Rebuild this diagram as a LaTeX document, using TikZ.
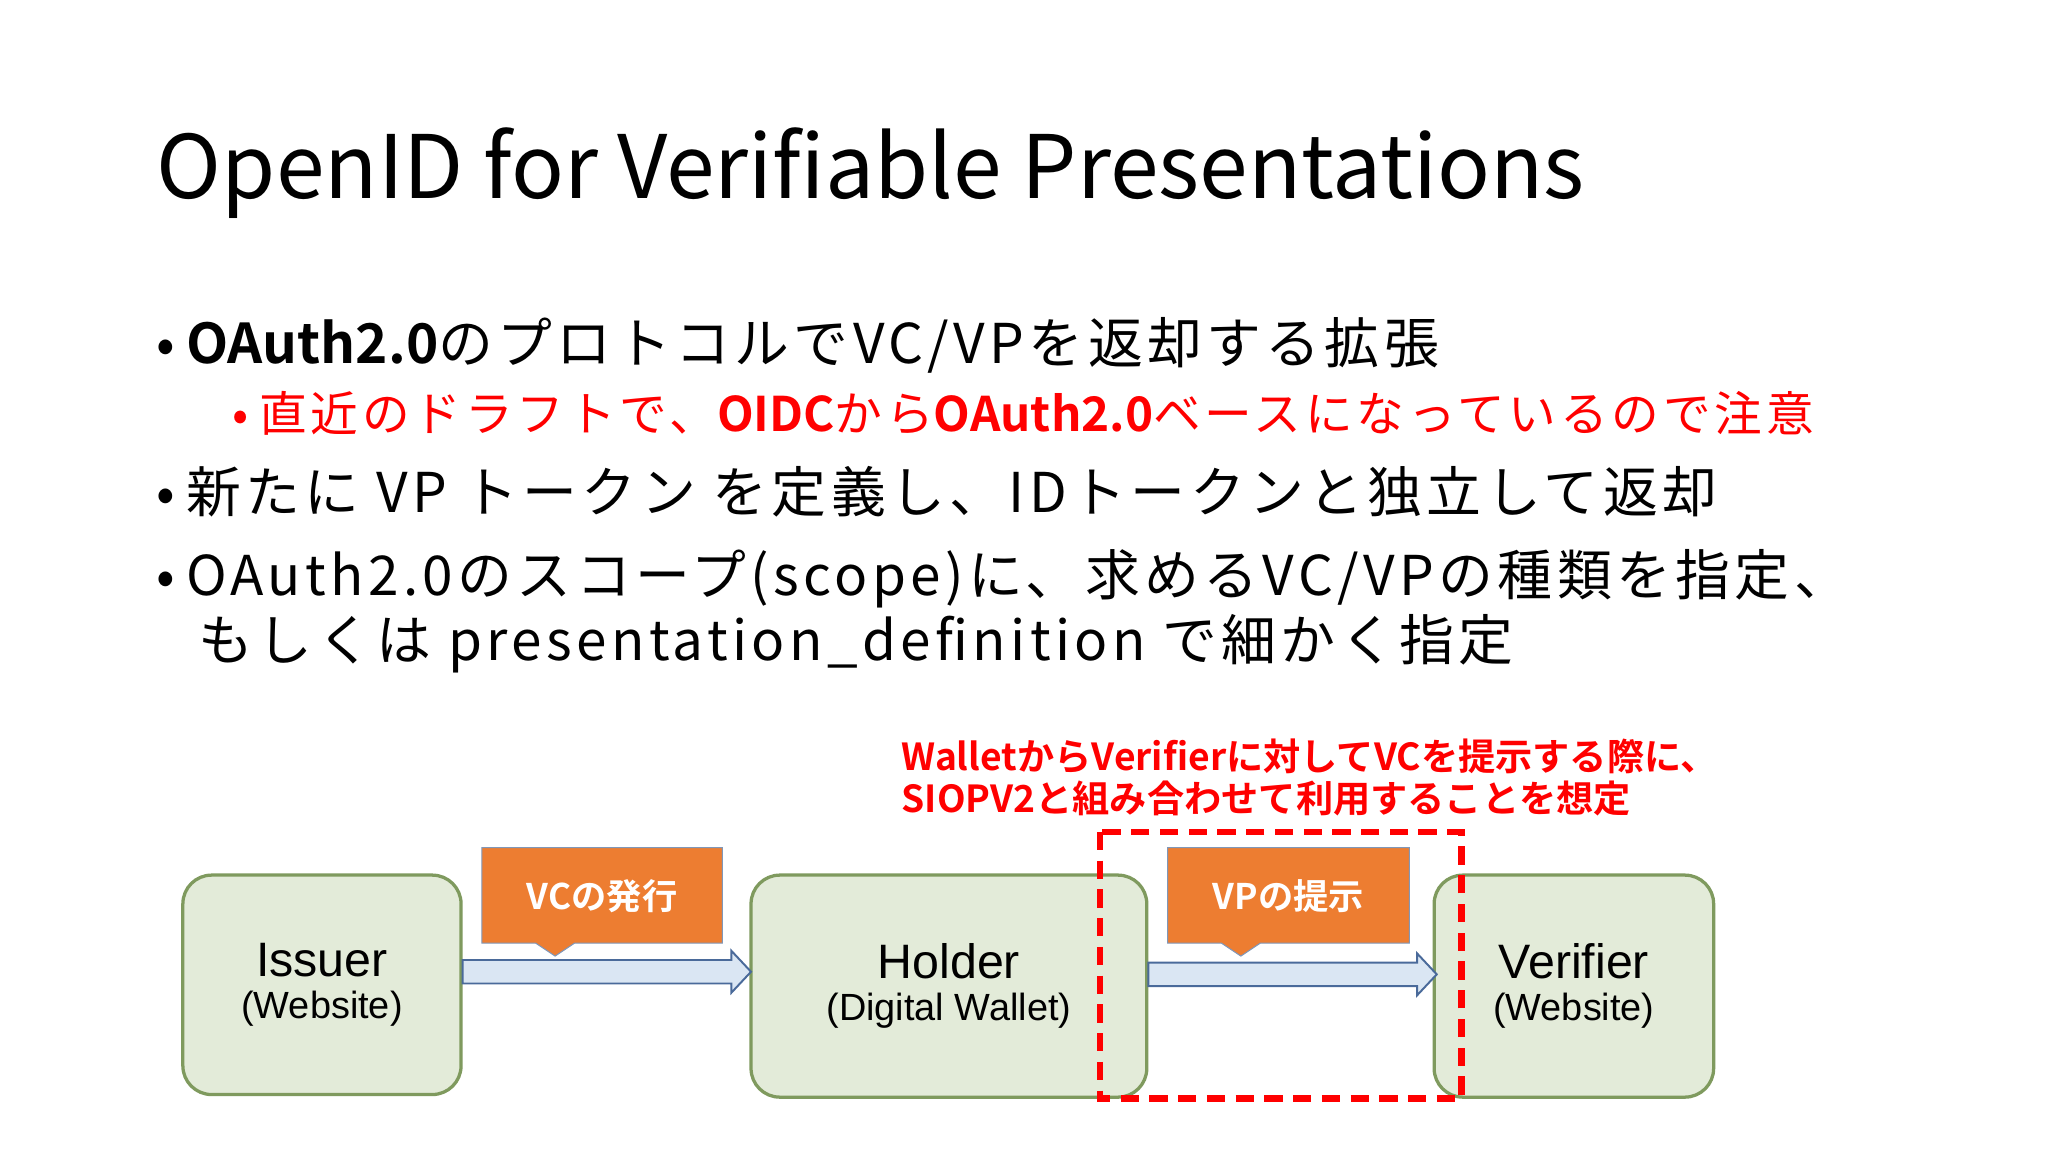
\documentclass[tikz,border=0pt]{standalone}
\usepackage{fontspec}
\setmainfont{Noto Sans CJK JP}
\newfontfamily\body[LetterSpace=8]{Noto Sans CJK JP}
\newfontfamily\jpb{Noto Sans CJK JP Bold}
\newfontfamily\arial{Liberation Sans}
\usetikzlibrary{arrows.meta}
\definecolor{boxfill}{HTML}{E3EBD9}
\definecolor{boxline}{HTML}{7F9A5E}
\definecolor{orng}{HTML}{ED7D31}
\definecolor{arrfill}{HTML}{DAE6F3}
\definecolor{arrline}{HTML}{4A6A9A}
\definecolor{redt}{HTML}{FF0000}
\tikzset{
  entity/.style={draw=boxline,fill=boxfill,line width=2.5pt,rounded corners=22pt,align=center,font=\arial},
  label/.style={anchor=base west,inner sep=0pt},
  callbox/.style={fill=orng,draw=arrline!70,line width=0.8pt},
  flow/.style={draw=arrline,fill=arrfill,line width=1.5pt}
}
\newcommand{\ent}[2]{\fontsize{37}{42}\selectfont #1\\[10pt]\fontsize{29}{32}\selectfont #2}
\begin{document}
\begin{tikzpicture}[x=1pt,y=-1pt]
\useasboundingbox (0,0) rectangle (1568,882);
\fill[white] (0,0) rectangle (1568,882);
\node[label,font=\fontsize{67}{80}\selectfont] (title) at (120,152) {OpenID for Verifiable Presentations};
\node[label,font=\body\fontsize{42}{46}\selectfont] (b1) at (120,278) {•\hspace{8pt}{\jpb OAuth2.0}のプロトコルでVC/VPを返却する拡張};
\node[label,font=\body\fontsize{36.5}{38}\selectfont,text=redt] (b1a) at (178,330) {•\hspace{8pt}直近のドラフトで、{\jpb OIDC}から{\jpb OAuth2.0}ベースになっているので注意};
\node[label,font=\body\fontsize{42}{46}\selectfont] (b2) at (120,392) {•\hspace{8pt}新たに VP トークン を定義し、IDトークンと独立して返却};
\node[label,font=\body\fontsize{42}{46}\selectfont] (b3) at (120,456) {•\hspace{8pt}OAuth2.0のスコープ(scope)に、求めるVC/VPの種類を指定、};
\node[label,font=\body\fontsize{42}{46}\selectfont] (b3b) at (152,506) {もしくは presentation\_definition で細かく指定};
% diagram
\node[entity,minimum width=213pt,minimum height=168pt] (iss) at (246.5,754) {\ent{Issuer}{(Website)}};
\node[entity,minimum width=303pt,minimum height=170pt] (hol) at (726.5,755) {\ent{Holder}{(Digital Wallet)}};
\node[entity,minimum width=214pt,minimum height=170pt] (ver) at (1205,755) {\ent{Verifier}{(Website)}};
% arrows
\draw[flow] (iss.east |- 0,735) -- (560,735) -- (560,728) -- (575,744) -- (560,760) -- (560,753) -- (iss.east |- 0,753) -- cycle;
\draw[flow] (hol.east |- 0,737) -- (1085,737) -- (1085,730) -- (1100,746) -- (1085,762) -- (1085,755) -- (hol.east |- 0,755) -- cycle;
% callouts
\draw[callbox] (369,649) -- (553,649) -- (553,722) -- (440,722) -- (425,732) -- (410,722) -- (369,722) -- cycle;
\node[text=white,font=\jpb\fontsize{27}{30}\selectfont] (vc) at (461,686) {VCの発行};
\draw[callbox] (894,649) -- (1079,649) -- (1079,722) -- (965,722) -- (950,732) -- (935,722) -- (894,722) -- cycle;
\node[text=white,font=\jpb\fontsize{27}{30}\selectfont] (vp) at (986.5,686) {VPの提示};
% red dashed
\draw[redt,line width=5pt,dash pattern=on 14pt off 8pt] (842,637) rectangle (1119,841);
\node[label,text=redt,font=\jpb\fontsize{28.5}{30}\selectfont] (n1) at (690,590) {WalletからVerifierに対してVCを提示する際に、};
\node[label,text=redt,font=\jpb\fontsize{28.5}{30}\selectfont] (n2) at (690,622) {SIOPV2と組み合わせて利用することを想定};
\end{tikzpicture}
\end{document}
